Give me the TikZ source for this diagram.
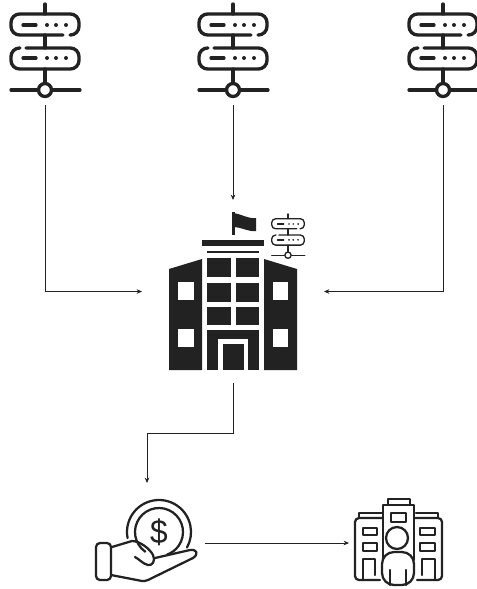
\documentclass[tikz,border=0pt]{standalone}
\usepackage{fontspec}
\setsansfont{Liberation Sans}
\usetikzlibrary{arrows.meta}
\definecolor{ink}{HTML}{222222}
\tikzset{
  slot/.style 2 args={inner sep=0pt,outer sep=0pt,minimum width=#1*0.75pt,minimum height=#2*0.75pt},
  flow/.style={line width=0.5pt,draw=ink,-{Stealth[length=4pt,width=3.4pt]}},
  outline/.style={draw=ink,line width=1.7pt,line join=round,line cap=round},
  pics/server/.style={code={
    \draw (0,4) -- (0,14);
    \draw[rounded corners=#1] (18,35) -- (-34,35) -- (-34,14) -- (34,14) -- (34,35) -- (25,35);
    \draw (0,35) -- (0,48);
    \draw[rounded corners=#1] (-19,48) -- (34,48) -- (34,69) -- (-34,69) -- (-34,48) -- (-25,48);
    \draw (-22,25) -- (-9,25) (-22,58) -- (-9,58);
    \foreach \dotx in {2,11,21} {
      \fill[ink] (\dotx,25) circle (2);
      \fill[ink] (\dotx,58) circle (2);
    }
    \draw (0,69) -- (0,83);
    \draw (-34,90) -- (-7,90) (7,90) -- (35,90);
    \draw (0,90) circle (6.5);
  }}
}
\begin{document}
\begin{tikzpicture}[x=0.75pt,y=-0.75pt]
\useasboundingbox (0,0) rectangle (477,589);
% slots
\node[slot={72}{102}] (serverA) at (45,54) {};
\node[slot={72}{102}] (serverB) at (233,54) {};
\node[slot={72}{102}] (serverC) at (443,54) {};
\node[slot={182}{183}] (school) at (233,291.5) {};
\node[slot={116}{102}] (hand) at (147,534) {};
\node[slot={95}{100}] (bank) at (396.5,543) {};
% servers
\pic[draw=ink,line width=2.5pt,line cap=round] at (45,0) {server=6.5pt};
\pic[draw=ink,line width=2.5pt,line cap=round] at (233,0) {server=6.5pt};
\pic[draw=ink,line width=2.5pt,line cap=round] at (443,0) {server=6.5pt};
% school
\fill[ink] (232,212) rectangle (234.5,235);
\fill[ink] (234,213) .. controls (241,214) and (248,219) .. (256,218) -- (256,231) .. controls (248,232) and (241,227) .. (234,227) -- cycle;
\fill[ink] (202,240) rectangle (264,246);
\fill[ink] (207,251) rectangle (259,253);
\foreach \rowa/\rowb in {258/277,283/302,307/325} {
  \fill[ink] (207,\rowa) rectangle (231,\rowb);
  \fill[ink] (236,\rowa) rectangle (259,\rowb);
}
\fill[ink] (207,330) rectangle (259,370);
\fill[white] (218,339) rectangle (248,370);
\fill[ink] (223,344) rectangle (244,370);
\fill[ink] (169,269) -- (202,259) -- (202,370) -- (169,370) -- cycle;
\fill[ink] (264,259) -- (297,269) -- (297,370) -- (264,370) -- cycle;
\foreach \rowa/\rowb in {282/300,329/347} {
  \fill[white] (178,\rowa) rectangle (194,\rowb);
  \fill[white] (273,\rowa) rectangle (288,\rowb);
}
\pic[draw=ink,line width=1pt,line cap=round,scale=0.48] at (288,212) {server=3pt};
% hand and coin
\draw[outline] (159,532) ++(125:24) arc[start angle=125,end angle=430,radius=24];
\draw[outline] (159,532) ++(169:32) arc[start angle=169,end angle=389,radius=32];
\node[font=\sffamily\fontsize{25}{25}\selectfont,text=ink,inner sep=0pt,xscale=0.95] (dollar) at (159,532) {\$};
\draw[outline,rounded corners=3] (96,543) rectangle (111,580);
\draw[outline] (112,547) -- (132,541) .. controls (140,541) and (150,549) .. (153,555) .. controls (156,561) and (152,566) .. (148,565) .. controls (143,564) and (139,559) .. (135,557);
\draw[outline] (155,558) -- (190,550) .. controls (197,549) and (199,554) .. (193,558) -- (148,580) .. controls (146,581) and (144,581) .. (142,581) -- (111,575);
% bank
\draw[outline] (388,505) -- (388,499) -- (410,499) -- (410,505);
\draw[outline] (383,560) -- (383,505) -- (414,505) -- (414,560);
\draw[outline] (359,518) -- (359,513) -- (382,513);
\draw[outline] (416,513) -- (438,513) -- (438,518);
\draw[outline,rounded corners=3] (380,580) -- (355,580) -- (355,518) -- (383,518);
\draw[outline,rounded corners=3] (414,518) -- (442,518) -- (442,580) -- (417,580);
\draw[outline] (391,513) rectangle (406,522);
\foreach \wina/\winb in {363/377,420/435} {
  \draw[outline] (\wina,528) rectangle (\winb,535);
  \draw[outline] (\wina,543) rectangle (\winb,551);
}
\draw[outline] (363,580) -- (363,559) -- (375,559) -- (375,575);
\draw[outline] (422,575) -- (422,559) -- (435,559) -- (435,580);
\draw[outline,fill=white,rounded corners=9] (382,585) -- (382,552) -- (414,552) -- (414,585) -- cycle;
\draw[outline,fill=white] (397,538) circle (11);
\draw[outline] (390,570) -- (390,585) (406,570) -- (406,585);
% connectors
\draw[flow] (serverA.south) |- (school.west);
\draw[flow] (serverB.south) -- (school.north);
\draw[flow] (serverC.south) |- (school.east);
\draw[flow] (school.south) -- ++(0,50) -| (hand.north);
\draw[flow] (hand.east |- bank.west) -- (bank.west);
\end{tikzpicture}
\end{document}
